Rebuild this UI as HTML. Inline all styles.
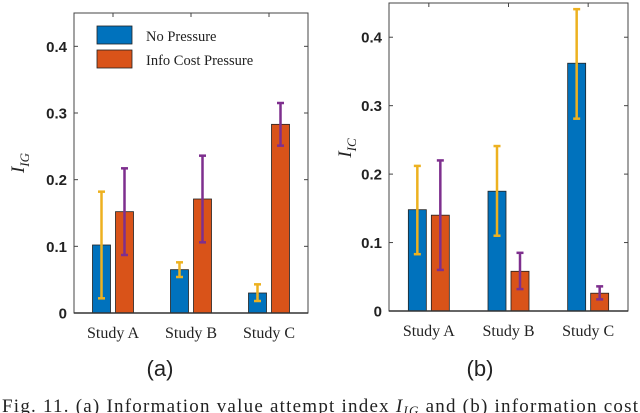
<!DOCTYPE html>
<html><head><meta charset="utf-8"><style>
html,body{margin:0;padding:0;background:#fff;width:640px;height:413px;overflow:hidden}
svg{display:block}
</style></head><body>
<svg id="fig" width="640" height="413" viewBox="0 0 640 413" xmlns="http://www.w3.org/2000/svg"></svg>
<script>
const categories = ["Study A","Study B","Study C"];
const ticks = [0,0.1,0.2,0.3,0.4];
const tickLabels = ["0","0.1","0.2","0.3","0.4"];
// panel (a) I_IG
const aNoVal = [0.102,0.065,0.030];
const aNoLo  = [0.022,0.054,0.018];
const aNoHi  = [0.182,0.076,0.043];
const aCostVal = [0.152,0.171,0.283];
const aCostLo  = [0.087,0.106,0.251];
const aCostHi  = [0.217,0.236,0.315];
// panel (b) I_IC
const bNoVal = [0.148,0.175,0.362];
const bNoLo  = [0.083,0.110,0.281];
const bNoHi  = [0.212,0.241,0.441];
const bCostVal = [0.140,0.058,0.026];
const bCostLo  = [0.060,0.032,0.017];
const bCostHi  = [0.220,0.085,0.036];

const NS="http://www.w3.org/2000/svg";
const svg=document.getElementById('fig');
function mk(tag,attrs,parent){const e=document.createElementNS(NS,tag);for(const k in attrs)e.setAttribute(k,attrs[k]);(parent||svg).appendChild(e);return e;}
const BLUE="#0072BD",ORANGE="#D95319",YEL="#EDB120",PUR="#7E2F8E";

function panel(id,L,R,T,B,noV,noLo,noHi,cV,cLo,cHi,ylab,sub,letter,tickRight){
  const g=mk('g',{});
  
  
  const ymax=0.45;
  const y=v=>B-(v/ymax)*(B-T);
  const gw=(R-L)/categories.length;
  const xc=i=>L+gw*(i+0.5);
  const bw=18, off=11.5;
  const box=mk('rect',{x:L,y:T,width:R-L,height:B-T,fill:'none',stroke:'#444','stroke-width':1},g);
  
  
  ticks.forEach((t,i)=>{
    const yy=y(t);
    mk('line',{x1:L,x2:L+4,y1:yy,y2:yy,stroke:'#444'},g);
    mk('line',{x1:R,x2:R-4,y1:yy,y2:yy,stroke:'#444'},g);
    const tl=mk('text',{x:tickRight,y:yy+5.5,'text-anchor':'end','font-family':'Liberation Sans, sans-serif','font-weight':'bold','font-size':15,fill:'#222'},g);
    tl.textContent=tickLabels[i];
    
    
  });
  categories.forEach((c,i)=>{
    mk('line',{x1:xc(i),x2:xc(i),y1:T,y2:T+4,stroke:'#444'},g);
    const ct=mk('text',{x:xc(i),y:B+25,'text-anchor':'middle','font-family':'Liberation Serif, serif','font-size':16,fill:'#222'},g);
    ct.textContent=c;
    
    
    const series=[[noV,noLo,noHi,BLUE,YEL,-off,'bar-no-pressure'],[cV,cLo,cHi,ORANGE,PUR,off,'bar-info-cost']];
    series.forEach(s=>{
      const cx=xc(i)+s[5];
      const r=mk('rect',{x:cx-bw/2,y:y(s[0][i]),width:bw,height:B-y(s[0][i]),fill:s[3],stroke:'#222','stroke-width':0.8},g);
      
      
      const eg=mk('g',{stroke:s[4],'stroke-width':2.5},g);
      
      
      mk('line',{x1:cx,x2:cx,y1:y(s[1][i]),y2:y(s[2][i])},eg);
      mk('line',{x1:cx-3.5,x2:cx+3.5,y1:y(s[1][i]),y2:y(s[1][i])},eg);
      mk('line',{x1:cx-3.5,x2:cx+3.5,y1:y(s[2][i]),y2:y(s[2][i])},eg);
    });
  });
  mk('line',{x1:L,x2:R,y1:B,y2:B,stroke:'#333','stroke-width':1.5},g);
  const yl=mk('text',{transform:`translate(${ylab[0]},${ylab[1]}) rotate(-90)`,'text-anchor':'middle','font-family':'Liberation Serif, serif','font-style':'italic','font-size':19,fill:'#222'},g);
  
  
  const t1=mk('tspan',{},yl);t1.textContent='I';
  const t2=mk('tspan',{'font-size':13,dy:5},yl);t2.textContent=ylab[2];
  const st=mk('text',{x:sub[0],y:sub[1],'text-anchor':'middle','font-family':'Liberation Sans, sans-serif','font-size':22,fill:'#222'},g);
  st.textContent=letter;
  
  
}
panel('panel-a',74,308,13,313,aNoVal,aNoLo,aNoHi,aCostVal,aCostLo,aCostHi,[24,163,'IG'],[160,376],'(a)',67);
panel('panel-b',389,628,3,311,bNoVal,bNoLo,bNoHi,bCostVal,bCostLo,bCostHi,[351,148,'IC'],[480,376],'(b)',382);

const lg=mk('g',{});


[[BLUE,'No Pressure',26],[ORANGE,'Info Cost Pressure',50]].forEach(e=>{
  const le=mk('g',{},lg);
  
  
  mk('rect',{x:97,y:e[2],width:35,height:18,fill:e[0],stroke:'#222','stroke-width':0.8},le);
  const t=mk('text',{x:146,y:e[2]+15,'font-family':'Liberation Serif, serif','font-size':14.5,fill:'#222'},le);
  t.textContent=e[1];
});
const cap=mk('text',{x:2,y:412,'font-family':'Liberation Serif, serif','font-size':19,fill:'#222',textLength:636,lengthAdjust:'spacing'});


cap.innerHTML='Fig. 11.  (a) Information value attempt index <tspan font-style="italic">I</tspan><tspan font-style="italic" font-size="13" dy="3">IG</tspan><tspan dy="-3"> and (b) information cost</tspan>';
</script>
</body></html>
